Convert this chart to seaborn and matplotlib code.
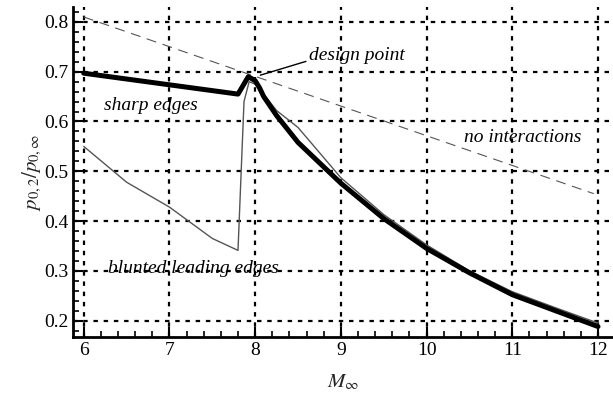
import matplotlib
matplotlib.use("Agg")
import matplotlib.pyplot as plt
import seaborn as sns
import pandas as pd
from matplotlib.ticker import MultipleLocator

# Data
mach_sharp = [6.0, 7.8, 7.92, 8.0, 8.05, 8.1, 8.25, 8.5, 9.0, 9.5, 10.0, 10.5, 11.0, 11.5, 12.0]
p_sharp = [0.697, 0.655, 0.690, 0.682, 0.668, 0.650, 0.612, 0.558, 0.476, 0.405, 0.345, 0.296, 0.252, 0.220, 0.188]

mach_blunt = [6.0, 6.5, 7.0, 7.5, 7.8, 7.87, 7.9, 7.93, 8.0, 8.1, 8.25, 8.5, 9.0, 9.5, 10.0, 10.5, 11.0, 11.5, 12.0]
p_blunt = [0.550, 0.478, 0.428, 0.365, 0.341, 0.640, 0.660, 0.680, 0.675, 0.655, 0.622, 0.588, 0.487, 0.413, 0.352, 0.300, 0.258, 0.226, 0.195]

mach_noint = [6.0, 11.95]
p_noint = [0.810, 0.455]

sns.set_theme(style="ticks")
plt.rcParams['font.family'] = ['Liberation Serif', 'DejaVu Serif']
plt.rcParams['mathtext.fontset'] = 'stix'

fig = plt.figure(figsize=(6.13, 3.94), dpi=100)
ax = fig.add_axes([73/613, 57/394, 540/613, 330/394])

df_s = pd.DataFrame({"M": mach_sharp, "p": p_sharp})
df_b = pd.DataFrame({"M": mach_blunt, "p": p_blunt})
df_n = pd.DataFrame({"M": mach_noint, "p": p_noint})

ax.grid(True, color='black', linestyle=(0, (2, 2.6)), linewidth=1.6, zorder=0)
ax.set_axisbelow(True)

sns.lineplot(data=df_n, x="M", y="p", ax=ax, color="#555555", linewidth=0.8,
             dashes=False, sort=False, estimator=None)
ax.lines[-1].set_linestyle((0, (9, 6)))
sns.lineplot(data=df_b, x="M", y="p", ax=ax, color="#555555", linewidth=1.0,
             sort=False, estimator=None)
sns.lineplot(data=df_s, x="M", y="p", ax=ax, color="black", linewidth=3.6,
             sort=False, estimator=None)

ax.set_xlim(5.875, 12.175)
ax.set_ylim(0.167, 0.83)
ax.xaxis.set_major_locator(MultipleLocator(1))
ax.xaxis.set_minor_locator(MultipleLocator(0.2))
ax.yaxis.set_major_locator(MultipleLocator(0.1))
ax.yaxis.set_minor_locator(MultipleLocator(0.02))
ax.set_xticks([6, 7, 8, 9, 10, 11, 12])
ax.set_xticklabels(["6", "7", "8", "9", "10", "11", "12"])
ax.set_yticks([0.2, 0.3, 0.4, 0.5, 0.6, 0.7, 0.8])
ax.set_yticklabels(["0.2", "0.3", "0.4", "0.5", "0.6", "0.7", "0.8"])
ax.tick_params(which='major', direction='in', length=7, width=1.5, labelsize=14, colors='black')
ax.tick_params(which='minor', direction='in', length=4, width=1.2, colors='black')

for s in ['top', 'right']:
    ax.spines[s].set_visible(False)
for s in ['left', 'bottom']:
    ax.spines[s].set_linewidth(2)
    ax.spines[s].set_color('black')

ax.set_xlabel(r"$M_\infty$", fontsize=15, labelpad=10)
ax.set_ylabel(r"$p_{0,2}/p_{0,\infty}$", fontsize=15, labelpad=0)

tkw = dict(fontsize=14, style='italic', ha='center', va='center', color='black')
ax.text(6.78, 0.632, "sharp edges", **tkw)
ax.text(7.28, 0.305, "blunted leading edges", **tkw)
ax.text(11.12, 0.568, "no interactions", **tkw)
ax.annotate("design point", xy=(8.06, 0.693), xytext=(9.19, 0.733),
            arrowprops=dict(arrowstyle='-', color='black', lw=1.0, shrinkA=0, shrinkB=0,
                            relpos=(0.0, 0.2)),
            **tkw)

fig.savefig("out.png", dpi=100)
